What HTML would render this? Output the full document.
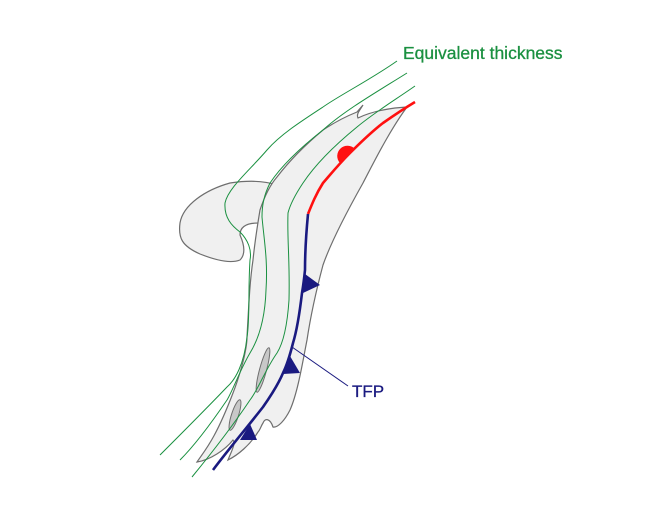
<!DOCTYPE html>
<html><head><meta charset="utf-8"><style>html,body{margin:0;padding:0;background:#fff;width:650px;height:524px;overflow:hidden}svg{display:block}</style></head>
<body>
<svg width="650" height="524" viewBox="0 0 650 524" xmlns="http://www.w3.org/2000/svg">
<!-- hook -->
<path d="M277,185 C265,181 250,180 230,183 C205,190 183,205 180,223 C178,238 182,246 200,254 C215,260 230,264 240,260 C246,254 244,244 240,235 C240,227 246,223 258,223 Z" fill="#f0f0f0" stroke="#6e6e6e" stroke-width="1.2"/>
<!-- main band -->
<path d="M363,105 C360,110 356,114 358,118 C368,113 380,110 395,108 L407,107 C390,130 375,160 363,183 C345,215 330,245 323,265 C315,295 310,320 307,340 C303,360 298,392 290,410 C285,420 278,428 273,427 C270,418 265,418 263,423 C261,426 260,430 258,432 C250,445 238,455 228,460 C232,450 236,443 233,440 C225,450 210,460 197,462 C205,450 215,440 233,393 C240,375 247,350 247,337 C249,300 250,280 253,260 C255,240 258,222 260,210 C265,195 270,185 277,177 C290,160 305,145 323,130 C335,122 347,116 357,112 Z" fill="#f0f0f0" stroke="#6e6e6e" stroke-width="1.2"/>
<!-- ellipses -->
<ellipse cx="263" cy="370" rx="3.5" ry="23" transform="rotate(15 263 370)" fill="#c8c8c8" stroke="#6e6e6e" stroke-width="1"/>
<ellipse cx="235" cy="415" rx="3.5" ry="16" transform="rotate(18 235 415)" fill="#c8c8c8" stroke="#6e6e6e" stroke-width="1"/>
<!-- green lines -->
<g fill="none" stroke="#1a9040" stroke-width="1">
<path d="M397,61 C370,80 340,95 323,107 C300,122 280,135 267,150 C250,170 228,188 225,203 C224,218 232,226 240,232 C248,240 252,250 250,260 C248,290 250,320 247,337 C244,365 235,380 227,387 C205,410 180,435 160,455"/>
<path d="M407,73 C380,90 345,110 323,130 C300,148 282,165 270,183 C264,195 262,205 262,217 C264,240 268,260 266,290 C265,320 258,340 250,353 C240,370 233,390 227,400 C210,425 195,445 180,460"/>
<path d="M415,86 C395,100 375,112 357,127 C335,145 315,165 303,183 C295,195 290,205 288,213 C287,240 290,260 289,300 C287,330 282,345 277,353 C265,370 258,390 250,400 C230,430 210,455 192,477"/>
</g>
<!-- red warm front -->
<path d="M415,102 C405,108 393,116 383,123 C370,133 360,143 350,153 C338,165 330,175 323,183 C316,194 312,204 308,214" fill="none" stroke="#ff1010" stroke-width="2.6"/>
<path d="M340,163 A8,8 0 1 1 355,149 Z" fill="#ff1010"/>
<!-- blue front -->
<path d="M308,214 C306,235 305,255 305,270 C304,280 303,287 302,293 C300,310 297,330 293,343 C290,355 287,365 283,373 C278,385 270,397 263,407 C245,430 228,450 213,470" fill="none" stroke="#1a1a80" stroke-width="2.6"/>
<polygon points="305,274 303,293 320,285" fill="#1a1a80"/>
<polygon points="290,356 283,374 300,373" fill="#1a1a80"/>
<polygon points="250,424 240,440 257,440" fill="#1a1a80"/>
<!-- leader -->
<line x1="292" y1="347" x2="348" y2="386" stroke="#1a1a80" stroke-width="1"/>
<text x="352" y="397" font-family="Liberation Sans, sans-serif" font-size="17" fill="#1a1a80" stroke="#1a1a80" stroke-width="0.3">TFP</text>
<text x="403" y="59" font-family="Liberation Sans, sans-serif" font-size="17.5" fill="#1a9040" stroke="#1a9040" stroke-width="0.3">Equivalent thickness</text>
</svg>
</body></html>
